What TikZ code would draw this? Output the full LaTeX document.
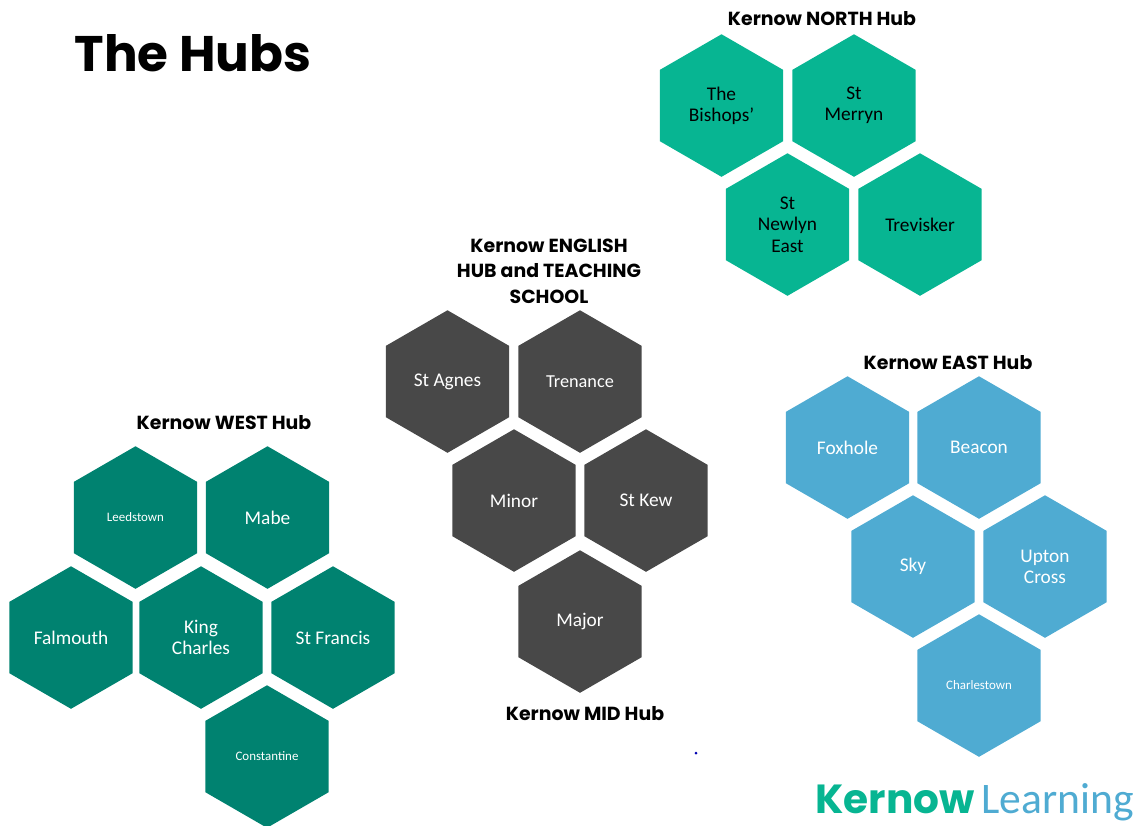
\documentclass[tikz,border=0pt]{standalone}
\usepackage{fontspec}
\setmainfont{Carlito}
\newfontfamily\headfont{Poppins}
\newfontfamily\logofont{Poppins}
\usetikzlibrary{shapes.geometric}
\definecolor{northgreen}{HTML}{07B592}
\definecolor{westgreen}{HTML}{008270}
\definecolor{midgrey}{HTML}{484848}
\definecolor{eastblue}{HTML}{4FABD2}
\tikzset{
  hexcell/.style={regular polygon,regular polygon sides=6,shape border rotate=30,minimum size=106.9pt,
    yshift=-0.4pt,inner sep=0pt,outer sep=0pt,align=center,text=white,font=\fontsize{14.5}{16}\selectfont},
  hexnorth/.style={hexcell,fill=northgreen,text=black},
  hexwest/.style={hexcell,fill=westgreen},
  hexmid/.style={hexcell,fill=midgrey},
  hexeast/.style={hexcell,fill=eastblue},
  tiny label/.style={font=\fontsize{9.7}{11}\selectfont},
  hubtitle/.style={align=center,inner sep=0pt,font=\headfont\bfseries\fontsize{14.2}{19}\selectfont},
}
\begin{document}
\begin{tikzpicture}[x=0.75pt,y=-0.75pt]
        \useasboundingbox (0,0) rectangle (1138,825);
        \node[inner sep=0pt,font=\headfont\bfseries\fontsize{37.5}{40}\selectfont] (title) at (193,53) {The Hubs};

        % north
        \node[hubtitle] (northtitle) at (822,19) {Kernow NORTH Hub};
        \node[hexnorth] (bishops) at (721.5,105) {The\\Bishops’};
        \node[hexnorth] (merryn) at (854,105) {St\\Merryn};
        \node[hexnorth] (newlyn) at (787.5,224) {St\\Newlyn\\East};
        \node[hexnorth] (trevisker) at (920,224) {Trevisker};

        % mid
        \node[hubtitle] (midtitle) at (549,271) {Kernow ENGLISH\\HUB and TEACHING\\SCHOOL};
        \node[hexmid] (agnes) at (447.5,381) {St Agnes};
        \node[hexmid,font=\fontsize{13.7}{16}\selectfont] (trenance) at (580,381) {Trenance};
        \node[hexmid] (minor) at (514,500) {Minor};
        \node[hexmid] (kew) at (646,500) {St Kew};
        \node[hexmid] (major) at (580,621) {Major};
        \node[hubtitle] (midhub) at (585,714) {Kernow MID Hub};

        % east
        \node[hubtitle] (easttitle) at (948,363) {Kernow EAST Hub};
        \node[hexeast] (foxhole) at (847.5,447) {Foxhole};
        \node[hexeast] (beacon) at (979,447) {Beacon};
        \node[hexeast] (sky) at (913,566) {Sky};
        \node[hexeast] (upton) at (1045,566) {Upton\\Cross};
        \node[hexeast,tiny label] (charlestown) at (979,685) {Charlestown};

        % west
        \node[hubtitle] (westtitle) at (224,423) {Kernow WEST Hub};
        \node[hexwest,tiny label] (leedstown) at (135.5,517) {Leedstown};
        \node[hexwest] (mabe) at (267.5,517) {Mabe};
        \node[hexwest] (falmouth) at (71,637) {Falmouth};
        \node[hexwest] (charles) at (201,637) {King\\Charles};
        \node[hexwest] (francis) at (333,637) {St Francis};
        \node[hexwest,tiny label] (constantine) at (267,756) {Constantine};

        % logo
        \fill[blue!70!black] (696,753) circle (1.5);
        \node[anchor=base west,inner sep=0pt,text=northgreen,font=\logofont\bfseries\fontsize{30.5}{30}\selectfont] (kernow) at (815,813) {Kernow};
        \node[anchor=base west,inner sep=0pt,text=eastblue,font=\fontsize{32.7}{36}\selectfont] (learning) at (981,813) {Learning};
\end{tikzpicture}
\end{document}
